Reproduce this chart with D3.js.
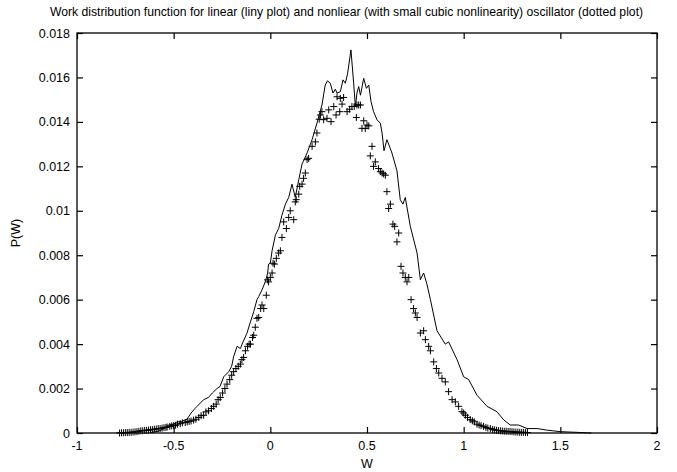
<!DOCTYPE html>
<html>
<head>
<meta charset="utf-8">
<script src="https://cdn.jsdelivr.net/npm/d3@7"></script>
<style>
  body { margin: 0; background: #fff; }
  svg { display: block; font-family: "Liberation Sans", Arial, sans-serif; }
</style>
</head>
<body>
<div id="chart"></div>
<script>
// linear oscillator (solid line)
const linW = [-0.62, -0.58, -0.55, -0.526, -0.5, -0.483, -0.46, -0.431, -0.41, -0.39, -0.379, -0.345, -0.32, -0.3, -0.276, -0.26, -0.241, -0.215, -0.2, -0.19, -0.172, -0.155, -0.141, -0.121, -0.103, -0.086, -0.069, -0.06, -0.043, -0.026, -0.014, -0.009, 0, 0.009, 0.026, 0.043, 0.06, 0.078, 0.095, 0.112, 0.129, 0.147, 0.164, 0.19, 0.216, 0.241, 0.267, 0.284, 0.296, 0.31, 0.324, 0.336, 0.345, 0.362, 0.376, 0.388, 0.4, 0.417, 0.431, 0.44, 0.448, 0.457, 0.466, 0.483, 0.497, 0.509, 0.521, 0.534, 0.552, 0.569, 0.578, 0.588, 0.603, 0.629, 0.655, 0.672, 0.686, 0.698, 0.724, 0.759, 0.776, 0.793, 0.81, 0.828, 0.862, 0.905, 0.922, 0.966, 1.0, 1.026, 1.069, 1.121, 1.172, 1.207, 1.241, 1.284, 1.328, 1.38, 1.43, 1.5, 1.586, 1.66];
const linP = [0.00002, 0.00008, 0.0002, 0.00036, 0.0004, 0.0005, 0.00052, 0.00062, 0.0009, 0.0011, 0.0012, 0.0015, 0.0016, 0.0018, 0.002, 0.0021, 0.00253, 0.00276, 0.003, 0.00343, 0.0039, 0.0038, 0.0041, 0.00449, 0.005, 0.00546, 0.006, 0.00614, 0.00644, 0.00681, 0.00719, 0.0076, 0.00764, 0.0082, 0.0089, 0.0092, 0.0098, 0.0103, 0.0106, 0.0112, 0.0106, 0.0114, 0.0121, 0.0126, 0.0132, 0.01394, 0.01476, 0.01566, 0.01585, 0.01574, 0.0153, 0.01547, 0.0153, 0.01536, 0.01589, 0.01574, 0.01619, 0.01724, 0.01574, 0.01469, 0.0153, 0.01559, 0.0152, 0.01596, 0.01551, 0.01566, 0.01491, 0.01446, 0.01409, 0.01394, 0.0135, 0.0127, 0.0132, 0.0126, 0.0118, 0.0105, 0.0103, 0.0106, 0.0093, 0.0081, 0.0069, 0.0072, 0.0067, 0.006, 0.0046, 0.004, 0.0041, 0.0033, 0.00253, 0.0024, 0.0017, 0.0012, 0.00096, 0.00059, 0.00036, 0.00036, 0.0002, 0.0002, 0.00013, 0.00006, 0.00003, 0];

// nonlinear oscillator (+ markers)
const nlW = [-0.78, -0.77, -0.76, -0.75, -0.74, -0.73, -0.72, -0.71, -0.70, -0.69, -0.68, -0.67, -0.66, -0.65, -0.64, -0.63, -0.62, -0.61, -0.60, -0.59, -0.58, -0.57, -0.56, -0.55, -0.54, -0.534, -0.52, -0.51, -0.50, -0.49, -0.48, -0.466, -0.455, -0.44, -0.43, -0.42, -0.41, -0.397, -0.385, -0.37, -0.358, -0.345, -0.333, -0.32, -0.305, -0.293, -0.28, -0.27, -0.259, -0.247, -0.235, -0.224, -0.21, -0.2, -0.19, -0.178, -0.166, -0.155, -0.147, -0.138, -0.129, -0.118, -0.11, -0.103, -0.092, -0.086, -0.078, -0.069, -0.06, -0.05, -0.043, -0.034, -0.021, -0.014, -0.009, 0, 0.009, 0.014, 0.021, 0.031, 0.043, 0.052, 0.06, 0.069, 0.083, 0.095, 0.103, 0.121, 0.129, 0.134, 0.147, 0.152, 0.164, 0.172, 0.181, 0.19, 0.198, 0.216, 0.233, 0.241, 0.253, 0.259, 0.267, 0.276, 0.293, 0.302, 0.314, 0.328, 0.34, 0.345, 0.359, 0.362, 0.371, 0.379, 0.397, 0.41, 0.422, 0.434, 0.445, 0.448, 0.457, 0.466, 0.474, 0.483, 0.491, 0.5, 0.509, 0.517, 0.526, 0.534, 0.543, 0.56, 0.569, 0.578, 0.586, 0.595, 0.603, 0.612, 0.621, 0.634, 0.643, 0.655, 0.664, 0.676, 0.686, 0.698, 0.707, 0.716, 0.728, 0.741, 0.75, 0.759, 0.776, 0.793, 0.802, 0.819, 0.828, 0.845, 0.859, 0.871, 0.888, 0.905, 0.922, 0.94, 0.957, 0.974, 0.991, 1.0, 1.009, 1.02, 1.034, 1.045, 1.055, 1.069, 1.08, 1.09, 1.103, 1.115, 1.125, 1.138, 1.15, 1.16, 1.17, 1.18, 1.19, 1.2, 1.21, 1.22, 1.23, 1.24, 1.25, 1.26, 1.27, 1.28, 1.29, 1.3, 1.31, 1.32, 1.33];
const nlP = [0, 0.00001, 0.00001, 0.00002, 0.00002, 0.00003, 0.00003, 0.00004, 0.00005, 0.00006, 0.00008, 0.0001, 0.0001, 0.00012, 0.00012, 0.00013, 0.00015, 0.00015, 0.00017, 0.00018, 0.0002, 0.0002, 0.00022, 0.00024, 0.00025, 0.00027, 0.0003, 0.00032, 0.00033, 0.00035, 0.0004, 0.00042, 0.00046, 0.00047, 0.0005, 0.00052, 0.00054, 0.00058, 0.00062, 0.0007, 0.00078, 0.0008, 0.00095, 0.001, 0.0011, 0.0012, 0.0013, 0.0015, 0.0016, 0.0018, 0.002, 0.0022, 0.0024, 0.0026, 0.00276, 0.0029, 0.003, 0.0031, 0.0033, 0.0034, 0.0037, 0.0039, 0.004, 0.004, 0.0043, 0.0044, 0.00476, 0.00516, 0.0052, 0.0056, 0.00576, 0.0056, 0.0062, 0.00689, 0.0068, 0.007, 0.0072, 0.00764, 0.0076, 0.00786, 0.0081, 0.0082, 0.0088, 0.0095, 0.0092, 0.0097, 0.01, 0.0096, 0.0104, 0.0105, 0.01075, 0.0111, 0.0112, 0.01146, 0.0117, 0.0123, 0.01236, 0.0129, 0.0131, 0.0135, 0.01412, 0.01431, 0.01446, 0.0141, 0.01416, 0.01454, 0.01401, 0.01469, 0.01431, 0.01513, 0.01446, 0.01506, 0.0148, 0.0151, 0.01446, 0.01457, 0.01469, 0.01469, 0.0142, 0.01476, 0.01476, 0.01476, 0.01371, 0.01405, 0.0137, 0.01386, 0.01382, 0.01247, 0.0129, 0.012, 0.0122, 0.0119, 0.01176, 0.0117, 0.01166, 0.0116, 0.01086, 0.0101, 0.0103, 0.0094, 0.0093, 0.0086, 0.009, 0.0075, 0.0072, 0.007, 0.0068, 0.007, 0.006, 0.0056, 0.0054, 0.0052, 0.0045, 0.0046, 0.0042, 0.0039, 0.0037, 0.0032, 0.0029, 0.0027, 0.00246, 0.0023, 0.00186, 0.0015, 0.0014, 0.0012, 0.00096, 0.0009, 0.0008, 0.0007, 0.0006, 0.00055, 0.0005, 0.0004, 0.00036, 0.00033, 0.0003, 0.00025, 0.00022, 0.0002, 0.00016, 0.00014, 0.00012, 0.00011, 0.0001, 0.00009, 0.00008, 0.00008, 0.00007, 0.00007, 0.00006, 0.00005, 0.00004, 0.00004, 0.00003, 0.00003, 0.00003, 0.00002, 0.00002];

const xTicks = [-1, -0.5, 0, 0.5, 1, 1.5, 2];
const yTicks = [0, 0.002, 0.004, 0.006, 0.008, 0.01, 0.012, 0.014, 0.016, 0.018];

const width = 677, height = 472;
const margin = { top: 33, right: 20, bottom: 39, left: 77 };
const innerWidth = width - margin.left - margin.right;
const innerHeight = height - margin.top - margin.bottom;

const svg = d3.select('#chart').append('svg').attr('width', width).attr('height', height);
const g = svg.append('g').attr('transform', `translate(${margin.left},${margin.top})`);

const x = d3.scaleLinear().domain([-1, 2]).range([0, innerWidth]);
const y = d3.scaleLinear().domain([0, 0.018]).range([innerHeight, 0]);
const fmt = (d) => String(d);

svg.append('text')
  .attr('x', width / 2 + 8).attr('y', 16)
  .attr('text-anchor', 'middle').attr('font-size', 12.2).attr('fill', '#000')
  .text('Work distribution function for linear (liny plot) and nonliear (with small cubic nonlinearity) oscillator (dotted plot)');

// gnuplot-like inward ticks on all four sides; labels are placed below from the same scales
const tick = 6;
g.append('g').attr('transform', `translate(0,${innerHeight})`)
  .call(d3.axisBottom(x).tickValues(xTicks).tickFormat('').tickSizeInner(-tick).tickSizeOuter(0));
g.append('g')
  .call(d3.axisTop(x).tickValues(xTicks).tickFormat('').tickSizeInner(-tick).tickSizeOuter(0));
g.append('g')
  .call(d3.axisLeft(y).tickValues(yTicks).tickFormat('').tickSizeInner(-tick).tickSizeOuter(0));
g.append('g').attr('transform', `translate(${innerWidth},0)`)
  .call(d3.axisRight(y).tickValues(yTicks).tickFormat('').tickSizeInner(-tick).tickSizeOuter(0));
g.selectAll('.tick text').remove();
g.selectAll('.domain').remove();
g.selectAll('.tick line').attr('stroke', '#000').attr('stroke-width', 1.2);

g.append('g').selectAll('text').data(xTicks).join('text')
  .attr('x', (d) => x(d)).attr('y', innerHeight + 17)
  .attr('text-anchor', 'middle').attr('font-size', 12.5).attr('fill', '#000')
  .text(fmt);
g.append('g').selectAll('text').data(yTicks).join('text')
  .attr('x', -7).attr('y', (d) => y(d) + 4.5)
  .attr('text-anchor', 'end').attr('font-size', 12.5).attr('fill', '#000')
  .text(fmt);

g.append('rect')
  .attr('width', innerWidth).attr('height', innerHeight)
  .attr('fill', 'none').attr('stroke', '#000').attr('stroke-width', 1.3);

// axis titles
g.append('text')
  .attr('x', innerWidth / 2).attr('y', innerHeight + 35)
  .attr('text-anchor', 'middle').attr('font-size', 12.5)
  .text('W');
g.append('text')
  .attr('transform', 'rotate(-90)').attr('x', -innerHeight / 2).attr('y', -57)
  .attr('text-anchor', 'middle').attr('font-size', 12.5)
  .text('P(W)');

const linData = linW.map((w, i) => ({ w, p: linP[i] }));
const nlData = nlW.map((w, i) => ({ w, p: nlP[i] }));

g.append('path')
  .datum(linData)
  .attr('d', d3.line().x((d) => x(d.w)).y((d) => y(d.p)))
  .attr('fill', 'none').attr('stroke', '#000').attr('stroke-width', 1);

g.append('g').selectAll('path').data(nlData).join('path')
  .attr('transform', (d) => `translate(${x(d.w)},${y(d.p)})`)
  .attr('d', 'M-3.5,0H3.5M0,-3.5V3.5')
  .attr('fill', 'none').attr('stroke', '#000').attr('stroke-width', 1);
</script>
</body>
</html>
